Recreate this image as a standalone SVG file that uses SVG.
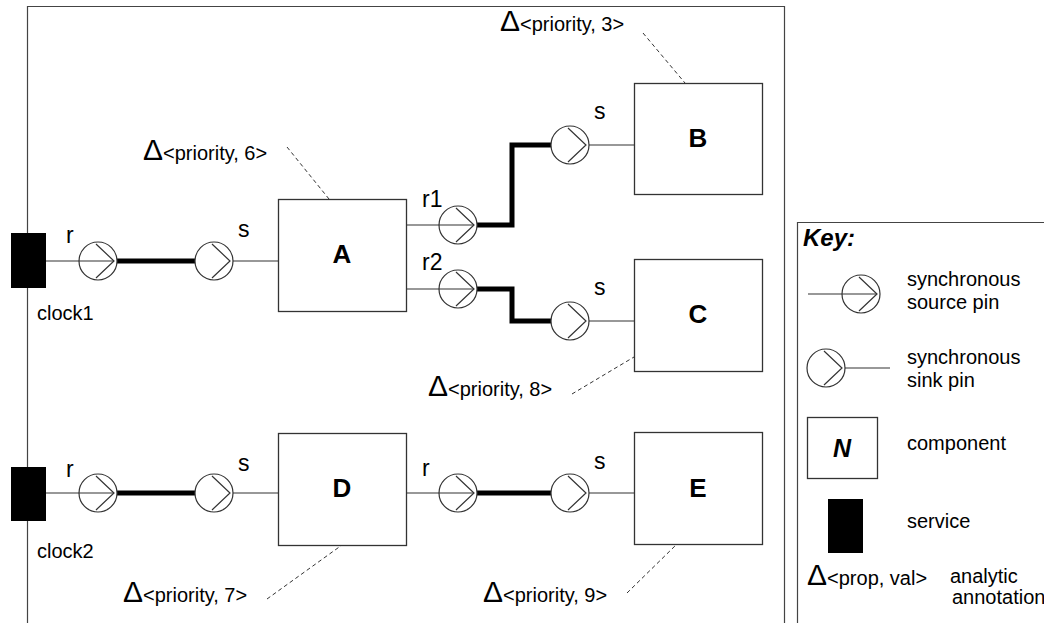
<svg xmlns="http://www.w3.org/2000/svg" xmlns:xlink="http://www.w3.org/1999/xlink" width="1044" height="623" viewBox="0 0 1044 623">
<style>
text{font-family:"Liberation Sans",Arial,sans-serif;fill:#000}
.lbl{font-size:23px}
.ann{font-size:20px}
.dl{font-size:30px}
.big{font-size:26px;font-weight:bold;text-anchor:middle}
.key{font-size:24px;font-weight:bold;font-style:italic}
.box{fill:#fff;stroke:#333;stroke-width:1.3}
.svc{fill:#000}
.thin{fill:none;stroke:#333;stroke-width:1.2}
.thick{fill:none;stroke:#000;stroke-width:5}
.dash{fill:none;stroke:#333;stroke-width:1;stroke-dasharray:4 3}
.frame{fill:none;stroke:#444;stroke-width:1.2}
</style>
<defs>
<g id="pin">
<circle cx="0" cy="0" r="19" fill="#fff" stroke="#333" stroke-width="1.2"/>
<path d="M-2,-17 L16,0 L-2,17" fill="none" stroke="#333" stroke-width="1.2"/>
</g>
</defs>
<path class="frame" d="M27.5,623 V6.5 H784.5 V623"/>
<path class="frame" d="M797.5,623 V222.5 H1044"/>

<g id="connectors">
<path class="thin" d="M46,261 H114"/>
<path class="thick" d="M117,261 H195"/>
<path class="thin" d="M233,261 H278"/>
<path class="thin" d="M406,225 H474"/>
<path class="thick" d="M477,225 H512 V145 H551"/>
<path class="thin" d="M589,145 H634"/>
<path class="thin" d="M406,289 H474"/>
<path class="thick" d="M477,289 H512 V321 H551"/>
<path class="thin" d="M589,321 H634"/>
<path class="thin" d="M46,493 H114"/>
<path class="thick" d="M117,493 H195"/>
<path class="thin" d="M233,493 H278"/>
<path class="thin" d="M406,493 H474"/>
<path class="thick" d="M477,493 H551"/>
<path class="thin" d="M589,493 H634"/>
<path class="dash" d="M643,33 L685,83"/>
<path class="dash" d="M287,147 L329,199"/>
<path class="dash" d="M572,394 L634,357"/>
<path class="dash" d="M267,599 L342,545"/>
<path class="dash" d="M627,593 L677,544"/>
</g>

<g id="pins">
<use xlink:href="#pin" href="#pin" x="98" y="261"/>
<use xlink:href="#pin" href="#pin" x="214" y="261"/>
<use xlink:href="#pin" href="#pin" x="458" y="225"/>
<use xlink:href="#pin" href="#pin" x="570" y="145"/>
<use xlink:href="#pin" href="#pin" x="458" y="289"/>
<use xlink:href="#pin" href="#pin" x="570" y="321"/>
<use xlink:href="#pin" href="#pin" x="98" y="493"/>
<use xlink:href="#pin" href="#pin" x="214" y="493"/>
<use xlink:href="#pin" href="#pin" x="458" y="493"/>
<use xlink:href="#pin" href="#pin" x="570" y="493"/>
<path class="thin" d="M79,261 H114 M79,493 H114 M439,225 H474 M439,289 H474 M439,493 H474"/>
<text class="lbl" x="66" y="243">r</text>
<text class="lbl" x="238" y="237">s</text>
<text class="lbl" x="422" y="207">r1</text>
<text class="lbl" x="594" y="119">s</text>
<text class="lbl" x="422" y="270">r2</text>
<text class="lbl" x="594" y="295">s</text>
<text class="lbl" x="66" y="477">r</text>
<text class="lbl" x="238" y="471">s</text>
<text class="lbl" x="422" y="476">r</text>
<text class="lbl" x="594" y="469">s</text>
</g>

<g id="clock1">
<rect class="svc" x="11" y="233" width="35" height="55"/>
<text class="ann" x="37" y="320">clock1</text>
</g>
<g id="clock2">
<rect class="svc" x="11" y="467" width="35" height="54"/>
<text class="ann" x="37" y="558">clock2</text>
</g>
<g id="A">
<rect class="box" x="278.5" y="199.5" width="128" height="112"/>
<text class="big" x="342" y="263">A</text>
</g>
<g id="B">
<rect class="box" x="634.5" y="83.5" width="128" height="111"/>
<text class="big" x="698" y="147">B</text>
</g>
<g id="C">
<rect class="box" x="634.5" y="259.5" width="128" height="112"/>
<text class="big" x="698" y="323">C</text>
</g>
<g id="D">
<rect class="box" x="278.5" y="433.5" width="128" height="112"/>
<text class="big" x="342" y="497">D</text>
</g>
<g id="E">
<rect class="box" x="634.5" y="432.5" width="128" height="112"/>
<text class="big" x="698" y="497">E</text>
</g>

<g id="annotations">
<text class="ann" x="500" y="31"><tspan class="dl">Δ</tspan>&lt;priority, 3&gt;</text>
<text class="ann" x="143" y="160"><tspan class="dl">Δ</tspan>&lt;priority, 6&gt;</text>
<text class="ann" x="428" y="396"><tspan class="dl">Δ</tspan>&lt;priority, 8&gt;</text>
<text class="ann" x="123" y="602"><tspan class="dl">Δ</tspan>&lt;priority, 7&gt;</text>
<text class="ann" x="483" y="602"><tspan class="dl">Δ</tspan>&lt;priority, 9&gt;</text>
</g>

<g id="key">
<text class="key" x="803" y="246">Key:</text>
<path class="thin" d="M808,294 H842"/>
<use xlink:href="#pin" href="#pin" x="861" y="294"/>
<path class="thin" d="M842,294 H877"/>
<text class="ann" x="907" y="286">synchronous</text>
<text class="ann" x="907" y="309">source pin</text>
<use xlink:href="#pin" href="#pin" x="826" y="368"/>
<path class="thin" d="M845,368 H890"/>
<text class="ann" x="907" y="364">synchronous</text>
<text class="ann" x="907" y="387">sink pin</text>
<rect class="box" x="807.5" y="417.5" width="70" height="61"/>
<text class="big" x="842" y="457" style="font-style:italic;font-size:25px">N</text>
<text class="ann" x="907" y="450">component</text>
<rect class="svc" x="828" y="499" width="35" height="54"/>
<text class="ann" x="907" y="528">service</text>
<text class="ann" x="807" y="585"><tspan class="dl">Δ</tspan>&lt;prop, val&gt;</text>
<text class="ann" x="950" y="583">analytic</text>
<text class="ann" x="952" y="604">annotation</text>
</g>
</svg>
